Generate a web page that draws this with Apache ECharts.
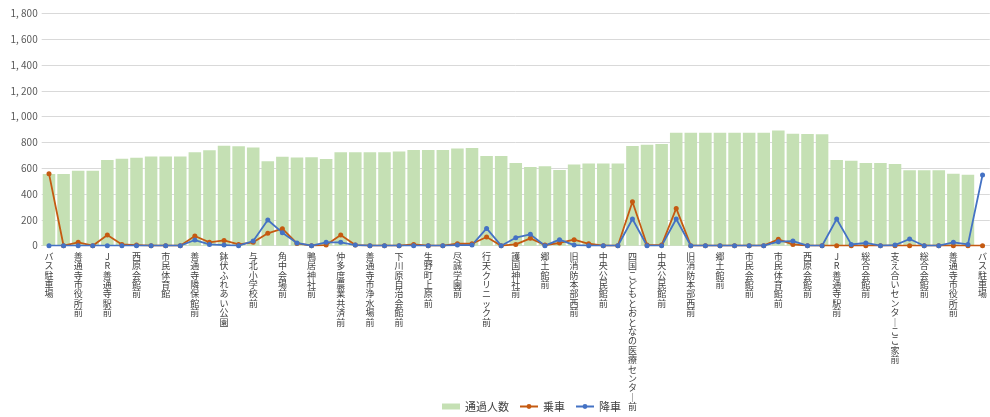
<!DOCTYPE html>
<html><head><meta charset="utf-8">
<script src="https://cdn.jsdelivr.net/npm/echarts@6/dist/echarts.min.js"></script>
<style>html,body{margin:0;padding:0;background:#fff}#c{width:990px;height:417px}</style>
</head><body><div id="c"></div>
<script>
const categories = [
 'バス駐車場','停留所01','善通寺市役所前','停留所03','JR善通寺駅前','停留所05','西原会館前','停留所07',
 '市民体育館','停留所09','善通寺隣保館前','停留所11','鉢伏ふれあい公園','停留所13','与北小学校前','停留所15',
 '角中会場前','停留所17','鴨居神社前','停留所19','仲多度農業共済前','停留所21','善通寺市浄水場前','停留所23',
 '下川原自治会館前','停留所25','生野町上原前','停留所27','尽誠学園前','停留所29','行天クリニック前','停留所31',
 '護国神社前','停留所33','郷土館前','停留所35','旧消防本部西前','停留所37','中央公民館前','停留所39',
 '四国こどもとおとなの医療センター前','停留所41','中央公民館前','停留所43','旧消防本部西前','停留所45','郷土館前','停留所47',
 '市民会館前','停留所49','市民体育館前','停留所51','西原会館前','停留所53','JR善通寺駅前','停留所55',
 '総合会館前','停留所57','支え合いセンターここ家前','停留所59','総合会館前','停留所61','善通寺市役所前','停留所63',
 'バス駐車場'
];
const passing = [
 555,555,580,580,664,674,682,690,690,690,724,739,775,770,760,654,688,684,686,672,
 724,724,724,724,729,742,742,742,752,757,695,695,641,610,615,587,628,636,636,636,
 773,781,788,874,874,874,874,874,874,874,892,868,866,863,664,657,641,641,633,584,
 584,584,558,550,0
];
const boarding = [
 558,0,26,0,83,10,5,0,0,0,75,26,41,10,26,96,132,18,0,5,
 83,5,0,0,0,10,0,0,15,15,67,0,10,57,5,21,47,15,0,0,
 341,5,5,289,0,0,0,0,0,0,49,10,0,0,0,0,0,0,0,0,
 0,0,0,0,0
];
const alighting = [
 0,0,0,0,0,0,0,0,0,0,44,10,5,0,36,199,101,21,0,26,
 26,5,0,0,0,0,0,0,5,5,134,0,62,88,0,47,5,0,0,0,
 207,0,0,207,0,0,0,0,0,0,31,36,0,0,207,10,21,0,5,52,
 0,0,26,10,548
];
const yMax = 1800, yInterval = 200;

const chart = echarts.init(document.getElementById('c'));
chart.setOption({
  animation:false,
  grid:{left:41.7,width:952.3,top:13.3,bottom:171.3,containLabel:false},
  legend:{
    top:396,left:437,itemGap:10,
    textStyle:{fontFamily:'Noto Sans CJK JP',fontSize:11,color:'#404040'},
    data:[
      {name:'通過人数',icon:'rect',itemStyle:{color:'#C5E0B4'}},
      {name:'乗車'},{name:'降車'}
    ],
    itemWidth:18,itemHeight:6
  },
  xAxis:{
    type:'category',data:categories,boundaryGap:true,
    axisLine:{lineStyle:{color:'#D9D9D9'}},
    axisTick:{show:false},
    axisLabel:{
      interval:1,margin:6,fontFamily:'Noto Sans CJK JP',fontSize:9,color:'#404040',
      lineHeight:9.4,verticalAlign:'top',
      formatter:v=>v.split('').map(c=>c==='ー'?'｜':c).join('\n')
    }
  },
  yAxis:{
    type:'value',min:0,max:yMax,interval:yInterval,
    axisLine:{show:false},axisTick:{show:false},
    splitLine:{lineStyle:{color:'#D9D9D9',width:1}},
    axisLabel:{margin:4,fontFamily:'Noto Sans CJK JP',fontSize:10,color:'#595959',
      formatter:v=>v.toLocaleString('en-US').replace(',', ', ')}
  },
  series:[
    {name:'通過人数',type:'bar',data:passing,barWidth:'86%',itemStyle:{color:'#C5E0B4'}},
    {name:'乗車',type:'line',data:boarding,symbol:'circle',symbolSize:5,
     lineStyle:{color:'#C55A11',width:1.8},itemStyle:{color:'#C55A11'}},
    {name:'降車',type:'line',data:alighting,symbol:'circle',symbolSize:5,
     lineStyle:{color:'#4472C4',width:1.8},itemStyle:{color:'#4472C4'}}
  ]
});
</script></body></html>
